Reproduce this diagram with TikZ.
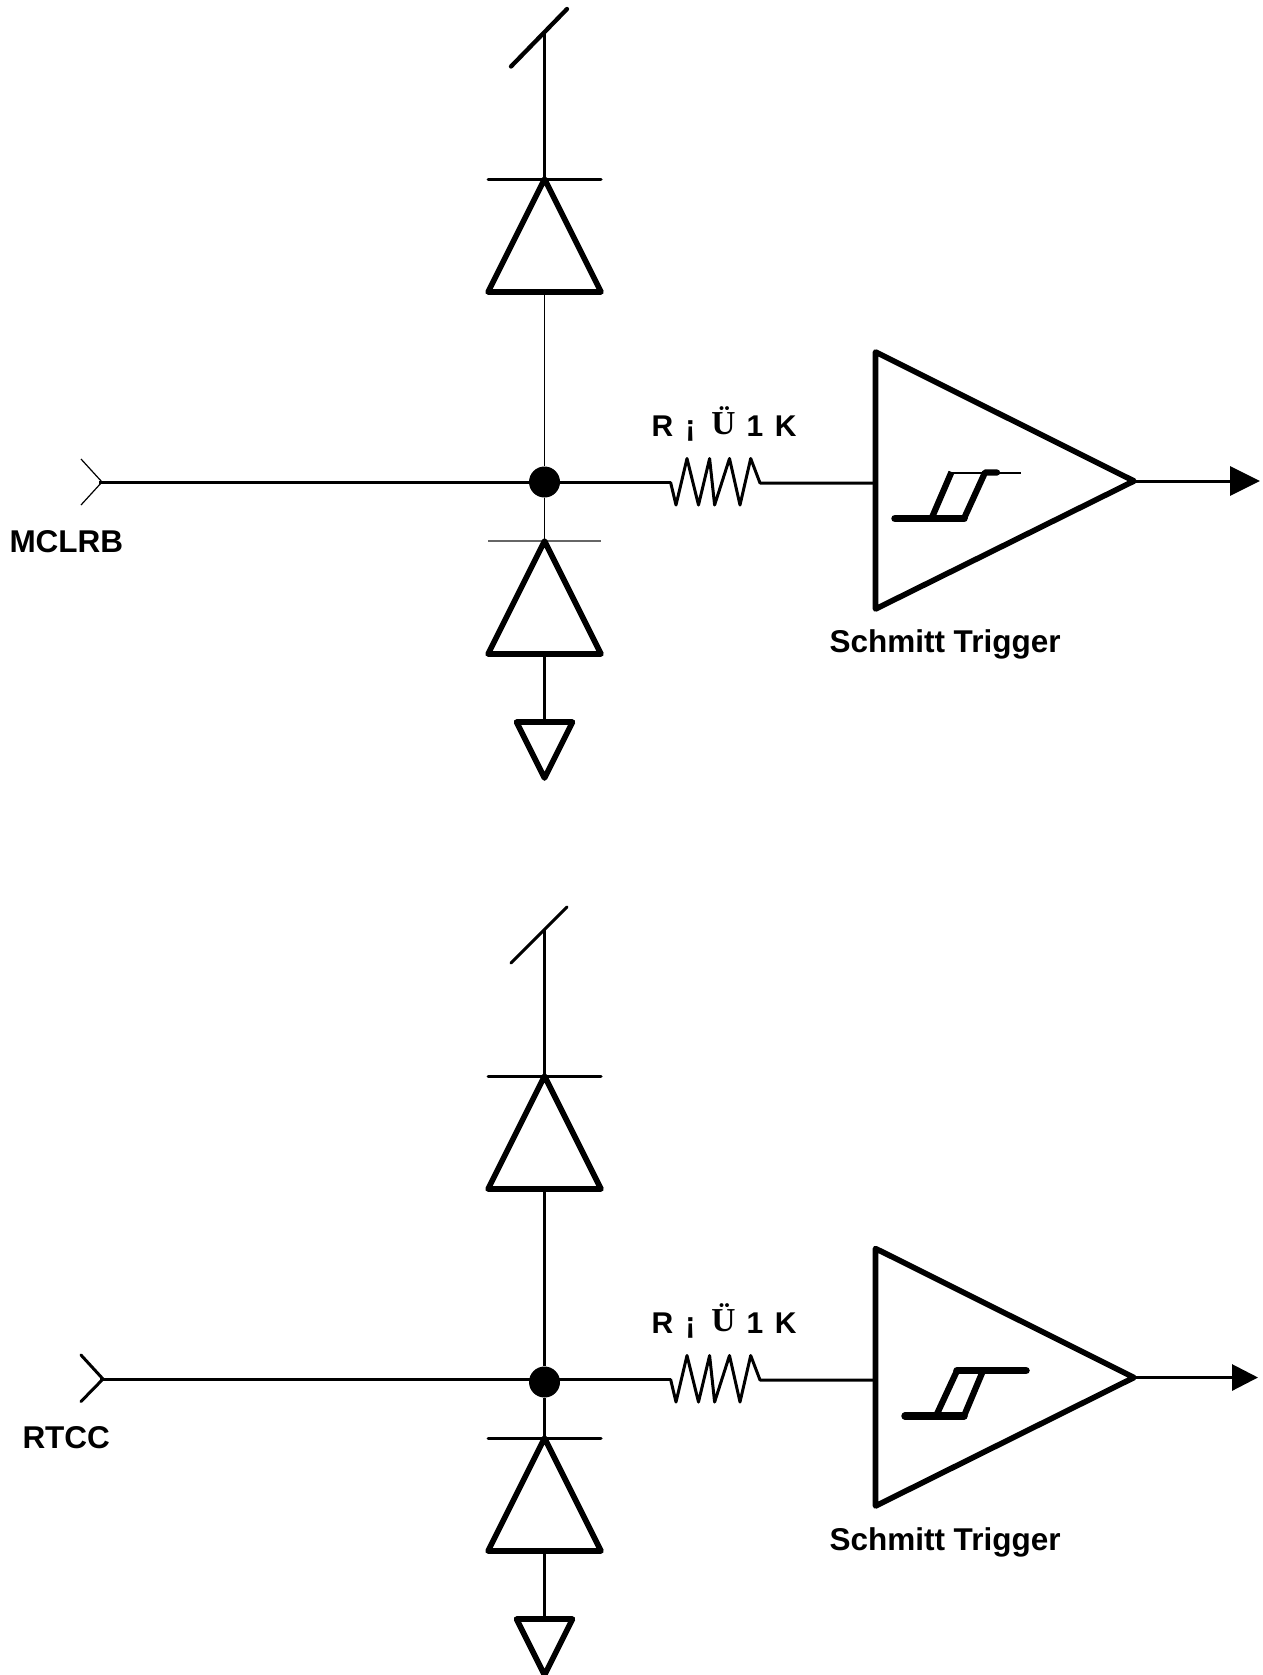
\documentclass[tikz,border=0pt]{standalone}
\usepackage{fontspec}
\setmainfont{Liberation Sans}
\newfontfamily\serifbold{Liberation Serif}[BoldFont=Liberation Serif Bold]
\usetikzlibrary{arrows.meta}
\tikzset{
  x=1bp,y=-1bp,
  wire/.style={line width=3bp,line cap=butt},
  hair/.style={line width=1.2bp},
  med/.style={line width=3bp,line cap=round},
  sym/.style={line width=5.6bp,line join=round,line cap=round},
  junction/.style={circle,fill=black,draw=none,minimum size=31bp,inner sep=0pt},
  lab/.style={anchor=base west,inner sep=0pt,outer sep=0pt,font=\fontsize{31.5bp}{31.5bp}\selectfont\bfseries},
  rlab/.style={anchor=base west,inner sep=0pt,outer sep=0pt,font=\fontsize{30bp}{30bp}\selectfont\bfseries},
}
\newcommand{\rlabel}{R\hspace{12.3bp}¡\hspace{16bp}\raisebox{2.5bp}{\fontsize{33.5bp}{33.5bp}\selectfont\serifbold Ü}\hspace{11bp}1\hspace{11.5bp}K}
\begin{document}
\begin{tikzpicture}
\useasboundingbox (0,0) rectangle (1262,1675);
% ---------- upper circuit ----------
\node[junction] (dotA) at (544.5,482) {};
\coordinate (inA) at (102,482);
\coordinate (rinA) at (670.5,482);
\coordinate (routA) at (760,483);
\coordinate (stA) at (875.5,483);
\coordinate (sinA) at (544.5,33);
\coordinate (barA) at (544.5,179);
\coordinate (baseA) at (544.5,292);
\coordinate (bar2A) at (544.5,541);
\coordinate (base2A) at (544.5,654);
\coordinate (gndA) at (544.5,722);
\coordinate (tipA) at (1134,481);
\coordinate (endA) at (1260,481);
\draw[hair] (81,459) -- (inA) -- (81,505);
\draw[wire] (99,482) -- (dotA);
\draw[wire] (dotA) -- (rinA);
\draw[wire,line join=round] (rinA) -- (676,505) -- (687,458.5) -- (698.5,505) -- (709.6,458.5) -- (714.6,505) -- (729.5,458.5) -- (740,505) -- (750.7,458.5) -- (routA) -- (stA);
\draw[med,line width=4.3bp] (511,66.5) -- (567,9);
\draw[wire] (sinA) -- (barA);
\draw[med] (488,179) -- (601,179);
\draw[sym] (barA) -- (601,292) -- (488,292) -- cycle;
\draw[hair] (baseA) -- (dotA);
\draw[hair] (dotA) -- (bar2A);
\draw[hair,draw=black!60] (488,541) -- (601,541);
\draw[sym] (bar2A) -- (601,654) -- (488,654) -- cycle;
\draw[wire] (base2A) -- (gndA);
\draw[sym] (516.5,722) -- (572.5,722) -- (544.5,778) -- cycle;
\draw[sym] (875.5,352) -- (tipA) -- (875.5,609) -- cycle;
\draw[line width=3bp,-{Triangle[length=30bp,width=29bp]}] (tipA) -- (endA);
\draw[line width=7.5bp,line cap=round] (895,518.5) -- (964,518.5);
\draw[line width=6.2bp] (931.5,518.5) -- (951.5,472);
\draw[line width=6.2bp,line join=round,line cap=round] (964,518.5) -- (985,472.5) -- (997,472.5);
\draw[line width=2bp] (951.5,472.7) -- (1020.5,472.7);
\node[lab] (nameA) at (9.5,552) {MCLRB};
\node[lab] (stlabA) at (829.5,652.5) {Schmitt Trigger};
\node[rlab] (rlabA) at (651.5,436.7) {\rlabel};
% ---------- lower circuit ----------
\node[junction] (dotB) at (544.5,1382) {};
\coordinate (inB) at (103,1379);
\coordinate (rinB) at (670.5,1379);
\coordinate (routB) at (760,1380);
\coordinate (stB) at (875.5,1380);
\coordinate (sinB) at (544.5,930);
\coordinate (barB) at (544.5,1076);
\coordinate (baseB) at (544.5,1189);
\coordinate (bar2B) at (544.5,1438);
\coordinate (base2B) at (544.5,1551);
\coordinate (gndB) at (544.5,1619);
\coordinate (tipB) at (1134,1377.5);
\coordinate (endB) at (1258,1377.5);
\draw[med] (81,1355) -- (inB) -- (81,1401.5);
\draw[wire] (100,1379) -- (dotB.center |- 100,1379);
\draw[wire] (dotB.center |- 100,1379) -- (rinB);
\draw[wire,line join=round] (rinB) -- (676,1402) -- (687,1355.5) -- (698.5,1402) -- (709.6,1355.5) -- (714.6,1402) -- (729.5,1355.5) -- (740,1402) -- (750.7,1355.5) -- (routB) -- (stB);
\draw[med] (511,963) -- (567,907);
\draw[wire] (sinB) -- (barB);
\draw[med] (488,1076) -- (601,1076);
\draw[sym] (barB) -- (601,1189) -- (488,1189) -- cycle;
\draw[wire] (baseB) -- (dotB);
\draw[wire] (dotB) -- (bar2B);
\draw[med] (488,1438) -- (601,1438);
\draw[sym] (bar2B) -- (601,1551) -- (488,1551) -- cycle;
\draw[wire] (base2B) -- (gndB);
\draw[sym] (516.5,1619) -- (572.5,1619) -- (544.5,1675) -- cycle;
\draw[sym] (875.5,1248.5) -- (tipB) -- (875.5,1506) -- cycle;
\draw[line width=3bp,-{Triangle[length=26bp,width=26bp]}] (tipB) -- (endB);
\draw[line width=7.5bp,line cap=round] (905,1416) -- (964,1416);
\draw[line width=6.2bp] (936,1416) -- (957,1370.7);
\draw[line width=6.2bp] (964,1416) -- (983,1370.7);
\draw[line width=7.5bp,line cap=round] (957,1370.7) -- (1026,1370.7);
\node[lab] (nameB) at (22.5,1448.7) {RTCC};
\node[lab] (stlabB) at (829.5,1550) {Schmitt Trigger};
\node[rlab] (rlabB) at (651.5,1333.7) {\rlabel};
\end{tikzpicture}
\end{document}
